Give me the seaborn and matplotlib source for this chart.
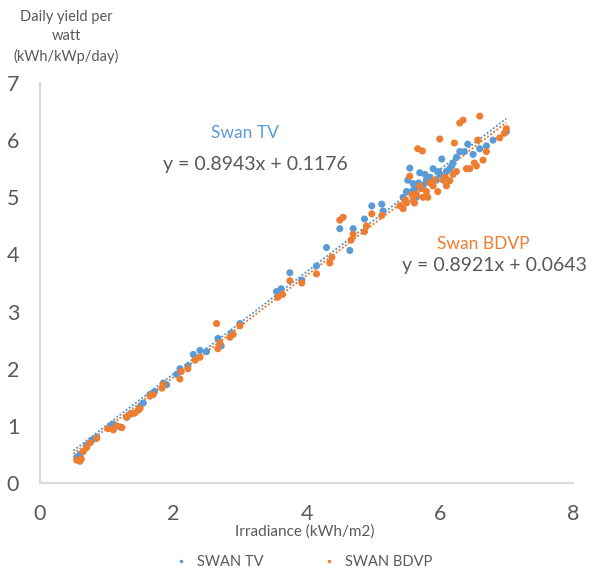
import matplotlib
matplotlib.use("Agg")
import matplotlib.pyplot as plt
import seaborn as sns
import numpy as np
import pandas as pd

# irradiance (kWh/m2) vs daily yield (kWh/kWp/day)
tv_x = [0.55, 0.6, 0.7, 0.78, 0.85, 1.05, 1.1, 1.2, 1.3, 1.38, 1.5, 1.55, 1.65, 1.72,
        1.85, 1.9, 2.05, 2.1, 2.22, 2.3, 2.4, 2.5, 2.67, 2.72, 2.87, 3.0, 3.55, 3.62,
        3.75, 3.93, 4.15, 4.3, 4.5, 4.65, 4.7, 4.87, 4.98, 5.13, 5.15, 5.45, 5.5, 5.55,
        5.58, 5.6, 5.65, 5.7, 5.75, 5.8, 5.85, 5.9, 5.95, 6.0, 6.03, 6.1, 6.15, 6.2,
        6.25, 6.3, 6.37, 6.42, 6.5, 6.6, 6.7, 6.8, 7.0,
        5.62, 5.78, 5.88, 5.98, 6.08, 6.18, 5.52, 5.68]
tv_y = [0.45, 0.5, 0.66, 0.75, 0.8, 1.0, 1.03, 0.98, 1.15, 1.22, 1.33, 1.4, 1.55, 1.6,
        1.75, 1.72, 1.9, 2.0, 2.05, 2.25, 2.32, 2.3, 2.53, 2.4, 2.62, 2.79, 3.35, 3.4,
        3.68, 3.55, 3.8, 4.12, 4.45, 4.07, 4.45, 4.62, 4.85, 4.88, 4.76, 5.0, 5.1, 5.51,
        5.1, 5.24, 5.0, 5.43, 5.2, 5.3, 5.35, 5.5, 5.3, 5.4, 5.67, 5.45, 5.5, 5.6,
        5.7, 5.8, 5.8, 5.93, 5.75, 5.85, 5.9, 6.0, 6.15,
        5.15, 5.4, 5.25, 5.45, 5.35, 5.55, 5.3, 5.25]

bdvp_x = [0.55, 0.6, 0.62, 0.65, 0.7, 0.75, 0.85, 1.02, 1.1, 1.15, 1.23, 1.3, 1.35, 1.42,
          1.47, 1.5, 1.65, 1.7, 1.83, 1.85, 2.1, 2.12, 2.22, 2.33, 2.4, 2.65, 2.67, 2.7,
          2.85, 2.9, 3.0, 3.57, 3.64, 3.75, 3.93, 4.15, 4.35, 4.38, 4.5, 4.55, 4.67, 4.7,
          4.87, 4.9, 4.98, 5.13, 5.4, 5.45, 5.5, 5.55, 5.6, 5.65, 5.67, 5.7, 5.74, 5.75,
          5.8, 5.85, 5.9, 6.0, 6.05, 6.1, 6.15, 6.2, 6.22, 6.3, 6.35, 6.4, 6.52, 6.55,
          6.57, 6.6, 6.65, 6.7, 6.9, 6.97, 7.0,
          5.48, 5.58, 5.62, 5.72, 5.82, 5.92, 5.97, 6.08, 6.25, 6.45]
bdvp_y = [0.4, 0.38, 0.42, 0.55, 0.62, 0.7, 0.78, 0.95, 0.93, 1.0, 0.97, 1.15, 1.2, 1.22,
          1.27, 1.3, 1.52, 1.55, 1.66, 1.72, 1.82, 1.95, 2.0, 2.15, 2.2, 2.79, 2.35, 2.45,
          2.55, 2.6, 2.75, 3.25, 3.3, 3.54, 3.5, 3.66, 3.85, 3.95, 4.6, 4.65, 4.25, 4.35,
          4.4, 4.5, 4.71, 4.68, 4.85, 4.8, 4.9, 5.37, 4.95, 5.05, 5.85, 5.2, 5.81, 5.0,
          5.1, 5.25, 5.2, 6.02, 5.3, 5.2, 5.29, 5.4, 5.95, 6.3, 6.35, 5.5, 5.6, 5.55,
          6.0, 6.42, 5.65, 5.8, 6.04, 6.12, 6.2,
          4.95, 5.05, 4.9, 5.15, 5.0, 5.3, 5.1, 5.35, 5.45, 5.5]

series_names = ["SWAN TV", "SWAN BDVP"]
# trendline coefficients as printed on the chart
slopes = [0.8943, 0.8921]
intercepts = [0.1176, 0.0643]
trend_range = [0.5, 7.0]

colors = ["#5B9BD5", "#ED7D31"]
grey = "#595959"

df = pd.DataFrame({
    "irr": tv_x + bdvp_x,
    "yield": tv_y + bdvp_y,
    "series": [series_names[0]] * len(tv_x) + [series_names[1]] * len(bdvp_x),
})

sns.set_theme(style="white")
plt.rcParams["font.family"] = ["Lato", "DejaVu Sans"]

fig = plt.figure(figsize=(5.98, 5.72), dpi=100)
ax = fig.add_axes([0.0669, 0.1556, 0.8913, 0.6993])

xs = np.array(trend_range)
for m, b, c in zip(slopes, intercepts, colors):
    ax.plot(xs, m * xs + b, color=c, lw=1.4, ls=(0, (1, 1)), zorder=1)

sns.scatterplot(data=df, x="irr", y="yield", hue="series", palette=colors,
                s=26, linewidth=0, ax=ax, zorder=2)

ax.set_xlim(0, 8)
ax.set_ylim(0, 7)
ax.set_xticks([0, 2, 4, 6, 8])
ax.set_yticks(range(8))
ax.tick_params(length=0, labelsize=15.5, colors=grey, pad=15)
for side in ["top", "right"]:
    ax.spines[side].set_visible(False)
for side in ["left", "bottom"]:
    ax.spines[side].set_color("#d9d9d9")
    ax.spines[side].set_linewidth(1.5)

ax.set_xlabel("Irradiance (kWh/m2)", fontsize=11, color=grey)
ax.xaxis.set_label_coords(0.497, -0.103)
ax.set_ylabel("")
fig.text(66 / 598, 1 - 37 / 572, "Daily yield per\nwatt\n(kWh/kWp/day)",
         ha="center", va="center", fontsize=10.5, color=grey, linespacing=1.5)

ax.text(3.07, 6.13, "Swan TV", color=colors[0], fontsize=12.5, ha="center", va="center")
ax.text(1.84, 5.58, "y = 0.8943x + 0.1176", color=grey, fontsize=14, ha="left", va="center")
ax.text(6.66, 4.19, "Swan BDVP", color=colors[1], fontsize=12.5, ha="center", va="center")
ax.text(5.43, 3.81, "y = 0.8921x + 0.0643", color=grey, fontsize=14, ha="left", va="center")

handles, labels = ax.get_legend_handles_labels()
ax.legend(handles, labels, loc="center", bbox_to_anchor=(0.5, 0.017),
          bbox_transform=fig.transFigure, ncol=2, frameon=False, fontsize=10.5,
          labelcolor=grey, markerscale=0.5, handletextpad=0.1, columnspacing=3.5)

fig.savefig("out.png", dpi=100)
